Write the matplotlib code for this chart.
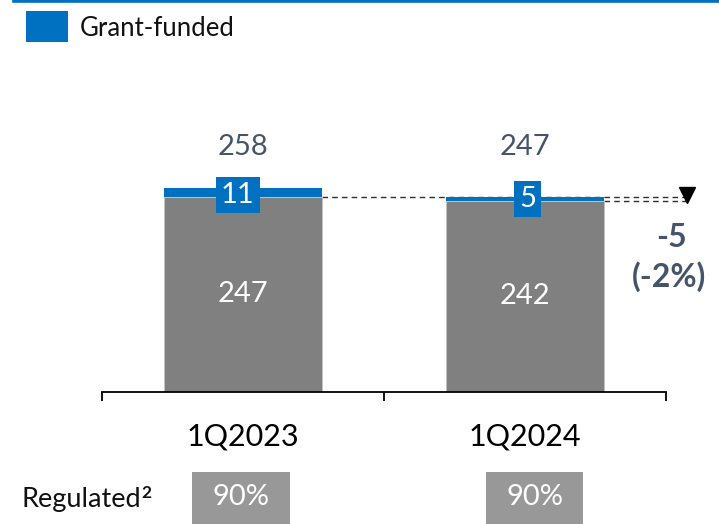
import matplotlib
matplotlib.use("Agg")
import matplotlib.pyplot as plt
from matplotlib.patches import Rectangle
from matplotlib.lines import Line2D

plt.rcParams['font.family'] = ['Lato', 'DejaVu Sans']

# ---- data ----
categories = ["1Q2023", "1Q2024"]
regulated_base = [247, 242]      # grey segment
grant_funded = [11, 5]           # blue segment
totals = [258, 247]
regulated_share = ["90%", "90%"]
legend_label = "Grant-funded"
change_abs = regulated_base[1] - regulated_base[0]
change_pct = round(100 * change_abs / regulated_base[0])

# ---- style ----
BLUE = "#0070C0"
GREY = "#808080"
BOXGREY = "#989898"
SLATE = "#44546A"

W, H = 719, 524
fig = plt.figure(figsize=(W / 100, H / 100), dpi=100)

def fx(px):
    return px / W

def fy(py):
    return 1 - py / H

# axes: left 102px, right 666px, bottom 392px, top 60px
ax = fig.add_axes([fx(102), fy(392), fx(666) - fx(102), fy(60) - fy(392)])
ax.set_xlim(-0.5, 1.5)
ax.set_ylim(0, 420)

x = list(range(len(categories)))
bw = 0.557
ax.bar(x, regulated_base, width=bw, color=GREY, edgecolor="#c4c4c4", linewidth=0.6, zorder=2)
ax.bar(x, grant_funded, width=bw, bottom=regulated_base, color=BLUE, linewidth=0, zorder=2)

for s in ["top", "right", "left"]:
    ax.spines[s].set_visible(False)
ax.spines["bottom"].set_linewidth(1.3)
ax.spines["bottom"].set_color("black")
ax.set_yticks([])
ax.set_xticks([-0.5, 0.5, 1.5])
ax.set_xticklabels([])
ax.tick_params(axis="x", which="major", length=6.5, width=1.3, direction="out", colors="black")
ax.set_xticks(x, minor=True)
ax.set_xticklabels(categories, minor=True)
ax.tick_params(axis="x", which="minor", length=0, pad=22, labelsize=22, labelcolor="black")

# value labels
label_y = max(totals) * 1.2
for i in x:
    ax.text(i, label_y, str(totals[i]), ha="center", va="center", fontsize=21, color=SLATE)
    ax.text(i, regulated_base[i] / 2, str(regulated_base[i]), ha="center", va="center",
            fontsize=21, color="white", zorder=3)
    dx = -0.018 if i == 0 else 0.01
    ax.text(i + dx, regulated_base[i] + grant_funded[i] / 2 - (3 if i == 0 else 0),
            str(grant_funded[i]), ha="center", va="center",
            fontsize=21, color="white", zorder=4,
            bbox=dict(boxstyle="square,pad=0.17", facecolor=BLUE, edgecolor="none"))

# dashed reference lines and triangle
x_arrow = 1.574
ax.plot([0 + bw / 2, x_arrow], [regulated_base[0], regulated_base[0]], ls=(0, (4, 3)),
        color="#303030", lw=1.0, clip_on=False, zorder=1)
ax.plot([1 + bw / 2, x_arrow], [regulated_base[1], regulated_base[1]], ls=(0, (4, 3)),
        color="#303030", lw=1.0, clip_on=False, zorder=1)
ax.plot([x_arrow], [regulated_base[0] + 2], marker="v", markersize=11, color="black",
        clip_on=False, zorder=5)

# change annotation
fig.text(fx(671), fy(238), f"{change_abs}", ha="center", va="center", fontsize=23,
         fontweight="bold", color=SLATE)
fig.text(fx(669), fy(277), f"({change_pct}%)", ha="center", va="center", fontsize=23,
         fontweight="bold", color=SLATE)

# top rule
fig.add_artist(Line2D([fx(14), 1.0], [fy(1.4), fy(1.4)], color=BLUE, lw=2.6))

# legend
fig.add_artist(Rectangle((fx(26), fy(42)), fx(68) - fx(26), fy(11) - fy(42),
                         facecolor=BLUE, edgecolor="none"))
fig.text(fx(80), fy(28), legend_label, ha="left", va="center", fontsize=18.5, color="#111111")

# regulated row
fig.text(fx(22), fy(507), "Regulated", ha="left", va="baseline", fontsize=19.5, color="#111111")
fig.text(fx(141), fy(493), "2", ha="left", va="center", fontsize=12.5, fontweight="bold",
         color="#111111")
box_x = [(192, 290), (486, 583)]
for (x0, x1), share in zip(box_x, regulated_share):
    fig.add_artist(Rectangle((fx(x0), fy(524)), fx(x1) - fx(x0), fy(472) - fy(524),
                             facecolor=BOXGREY, edgecolor="none"))
    fig.text(fx((x0 + x1) / 2), fy(497), share, ha="center", va="center", fontsize=21,
             color="white")

fig.savefig("out.png", dpi=100)
